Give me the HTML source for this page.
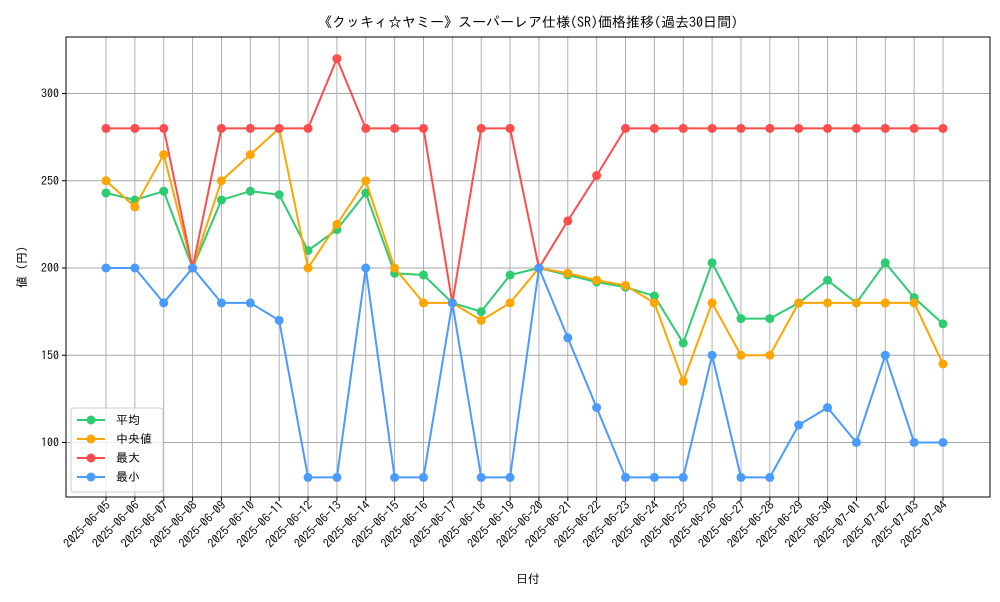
<!DOCTYPE html>
<html><head><meta charset="utf-8"><style>
body{margin:0;background:#fff;font-family:"IPAGothic","Liberation Sans","Noto Sans CJK JP",sans-serif}
</style></head><body>
<svg width="1000" height="600" font-family="IPAGothic, Liberation Sans, Noto Sans CJK JP, sans-serif">
<g id="grid"></g><g id="axes"></g><g id="series"></g><g id="legend"></g>
</svg>
<script>
const dates=["2025-06-05","2025-06-06","2025-06-07","2025-06-08","2025-06-09","2025-06-10","2025-06-11","2025-06-12","2025-06-13","2025-06-14","2025-06-15","2025-06-16","2025-06-17","2025-06-18","2025-06-19","2025-06-20","2025-06-21","2025-06-22","2025-06-23","2025-06-24","2025-06-25","2025-06-26","2025-06-27","2025-06-28","2025-06-29","2025-06-30","2025-07-01","2025-07-02","2025-07-03","2025-07-04"];
const avgVals=[243,239,244,200,239,244,242,210,222,243,197,196,180,175,196,200,196,192,189,184,157,203,171,171,180,193,180,203,183,168];
const medVals=[250,235,265,200,250,265,280,200,225,250,200,180,180,170,180,200,197,193,190,180,135,180,150,150,180,180,180,180,180,145];
const maxVals=[280,280,280,200,280,280,280,280,320,280,280,280,180,280,280,200,227,253,280,280,280,280,280,280,280,280,280,280,280,280];
const minVals=[200,200,180,200,180,180,170,80,80,200,80,80,180,80,80,200,160,120,80,80,80,150,80,80,110,120,100,150,100,100];
const yTicks=[100,150,200,250,300];
const NS="http://www.w3.org/2000/svg";
const L=66,R=990,T=37,B=497;
const x=i=>106+i*(943-106)/(dates.length-1);
const y=v=>268-(v-200)*1.745;
function mk(tag,attrs,parent,text){const e=document.createElementNS(NS,tag);for(const k in attrs)e.setAttribute(k,attrs[k]);if(text!==undefined)e.textContent=text;parent.appendChild(e);return e;}
const grid=document.getElementById('grid'),axes=document.getElementById('axes'),ser=document.getElementById('series'),leg=document.getElementById('legend');
dates.forEach((d,i)=>{
 const g=mk('line',{x1:x(i),x2:x(i),y1:T,y2:B,stroke:'#a8a8a8','stroke-width':0.9},grid);
 
 mk('line',{x1:x(i),x2:x(i),y1:B,y2:B+4,stroke:'#000'},axes);
 const t=mk('text',{x:x(i)+5,y:B+9,'font-size':12,'text-anchor':'end',transform:`rotate(-45 ${x(i)+5} ${B+9})`},axes,d);
 
});
yTicks.forEach(v=>{
 const g=mk('line',{x1:L,x2:R,y1:y(v),y2:y(v),stroke:'#a8a8a8','stroke-width':0.9},grid);
 
 mk('line',{x1:L-4,x2:L,y1:y(v),y2:y(v),stroke:'#000'},axes);
 const t=mk('text',{x:L-7,y:y(v)+4,'font-size':12,'text-anchor':'end'},axes,v);
 
});
const fr=mk('rect',{x:L,y:T,width:R-L,height:B-T,fill:'none',stroke:'#000','stroke-width':1},axes);

const ti=mk('text',{x:528,y:27,'font-size':14,'text-anchor':'middle'},axes,'《クッキィ☆ヤミー》スーパーレア仕様(SR)価格推移(過去30日間)');

const xl=mk('text',{x:528,y:583,'font-size':12,'text-anchor':'middle'},axes,'日付');

const yl=mk('text',{x:26,y:267,'font-size':12,'text-anchor':'middle',transform:'rotate(-90 26 267)'},axes,'値 (円)');

const series=[["平均",avgVals,"#2ecc71","avg"],["中央値",medVals,"#ffa500","median"],["最大",maxVals,"#ff4c4c","max"],["最小",minVals,"#4a9bff","min"]];
series.forEach(([name,vals,c,key])=>{
 const p=mk('polyline',{points:vals.map((v,i)=>x(i)+','+y(v)).join(' '),fill:'none',stroke:c,'stroke-width':2},ser);
 
 vals.forEach((v,i)=>{const m=mk('circle',{cx:x(i),cy:y(v),r:4.5,fill:c},ser);
 });
});
const lb=mk('rect',{x:71,y:408,width:92,height:84,fill:'#fff','fill-opacity':0.8,stroke:'#ccc',rx:3},leg);

series.forEach(([name,vals,c,key],k)=>{
 const yy=420+k*19;
 const g=mk('g',{},leg);
 mk('line',{x1:77,x2:105,y1:yy,y2:yy,stroke:c,'stroke-width':2},g);
 mk('circle',{cx:91,cy:yy,r:4.5,fill:c},g);
 mk('text',{x:116,y:yy+4,'font-size':12},g,name);
});
</script>
</body></html>
